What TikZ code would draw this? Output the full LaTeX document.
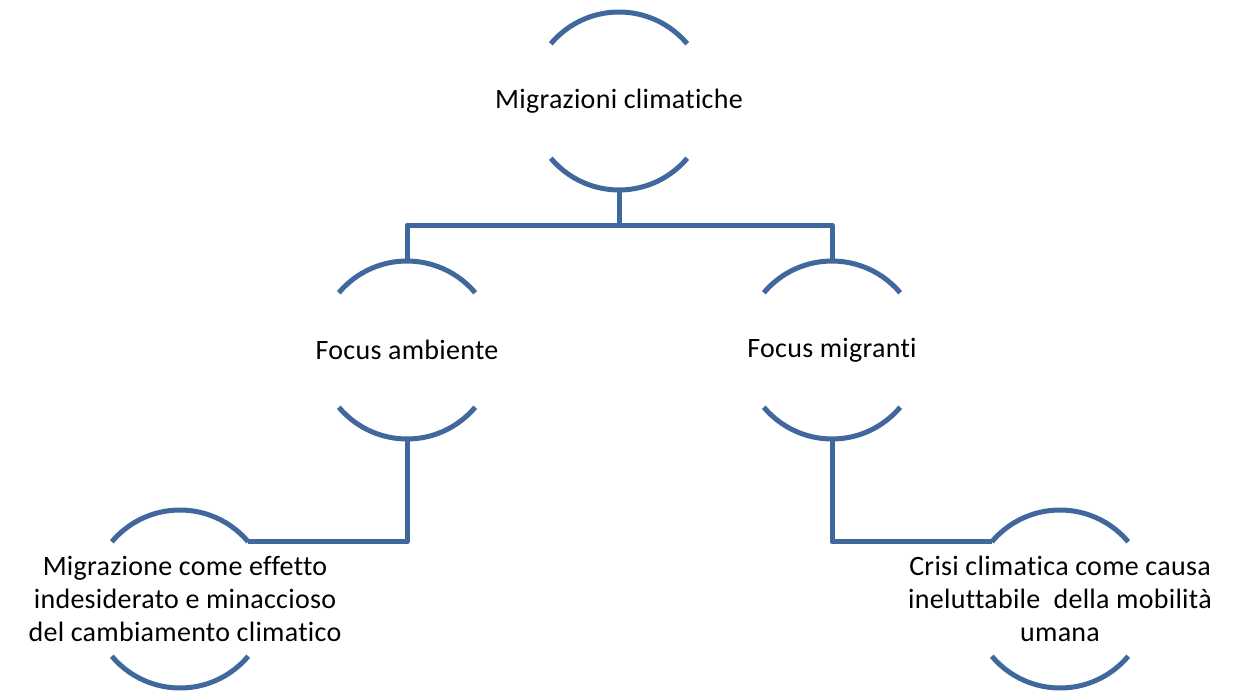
\documentclass[tikz,border=0pt]{standalone}
\usepackage{fontspec}
\setmainfont{Carlito}[Ligatures=NoCommon, LetterSpace=1]
\definecolor{arcblue}{RGB}{64,104,156}
\begin{document}
\begin{tikzpicture}[x=1pt,y=-1pt,
  ring/.style={circle, minimum size=178pt, inner sep=0pt, outer sep=0pt},
  lbl/.style={align=center, inner sep=0pt, font=\fontsize{28}{33}\selectfont, text=black},
  arcline/.style={draw=arcblue, line width=5pt},
  conn/.style={draw=arcblue, line width=5pt, line join=round}]
\useasboundingbox (0,0) rectangle (1246,691);
% circles (only top/bottom arcs drawn)
\node[ring] (top) at (619,101) {};
\node[ring] (fa) at (407,350) {};
\node[ring] (fm) at (832,350) {};
\node[ring] (mig) at (180,599) {};
\node[ring] (cri) at (1060,599) {};
% texts
\node[lbl] (topt) at (top.center) {Migrazioni climatiche};
\node[lbl] (fat) at (fa.center) {Focus ambiente};
\node[lbl] (fmt) at (fm.center) {Focus migranti};
\node[lbl] (migt) at ([xshift=5pt]mig.center) {Migrazione come effetto\\indesiderato e minaccioso\\del cambiamento climatico};
\node[lbl] (crit) at (cri.center) {Crisi climatica come causa\\ineluttabile\ \ della mobilità\\umana};
% arcs
\foreach \n in {top,fa,fm,mig,cri}{
  \draw[arcline] (\n.40) arc[start angle=40, end angle=140, radius=89pt];
  \draw[arcline] (\n.220) arc[start angle=220, end angle=320, radius=89pt];
}
% connectors
\draw[conn] (top.south) -- ++(0,35) coordinate (hb) -| (fa.north);
\draw[conn] (hb) -| (fm.north);
\draw[conn] (fa.south) |- (mig.40);
\draw[conn] (fm.south) |- (cri.140);
\end{tikzpicture}
\end{document}
